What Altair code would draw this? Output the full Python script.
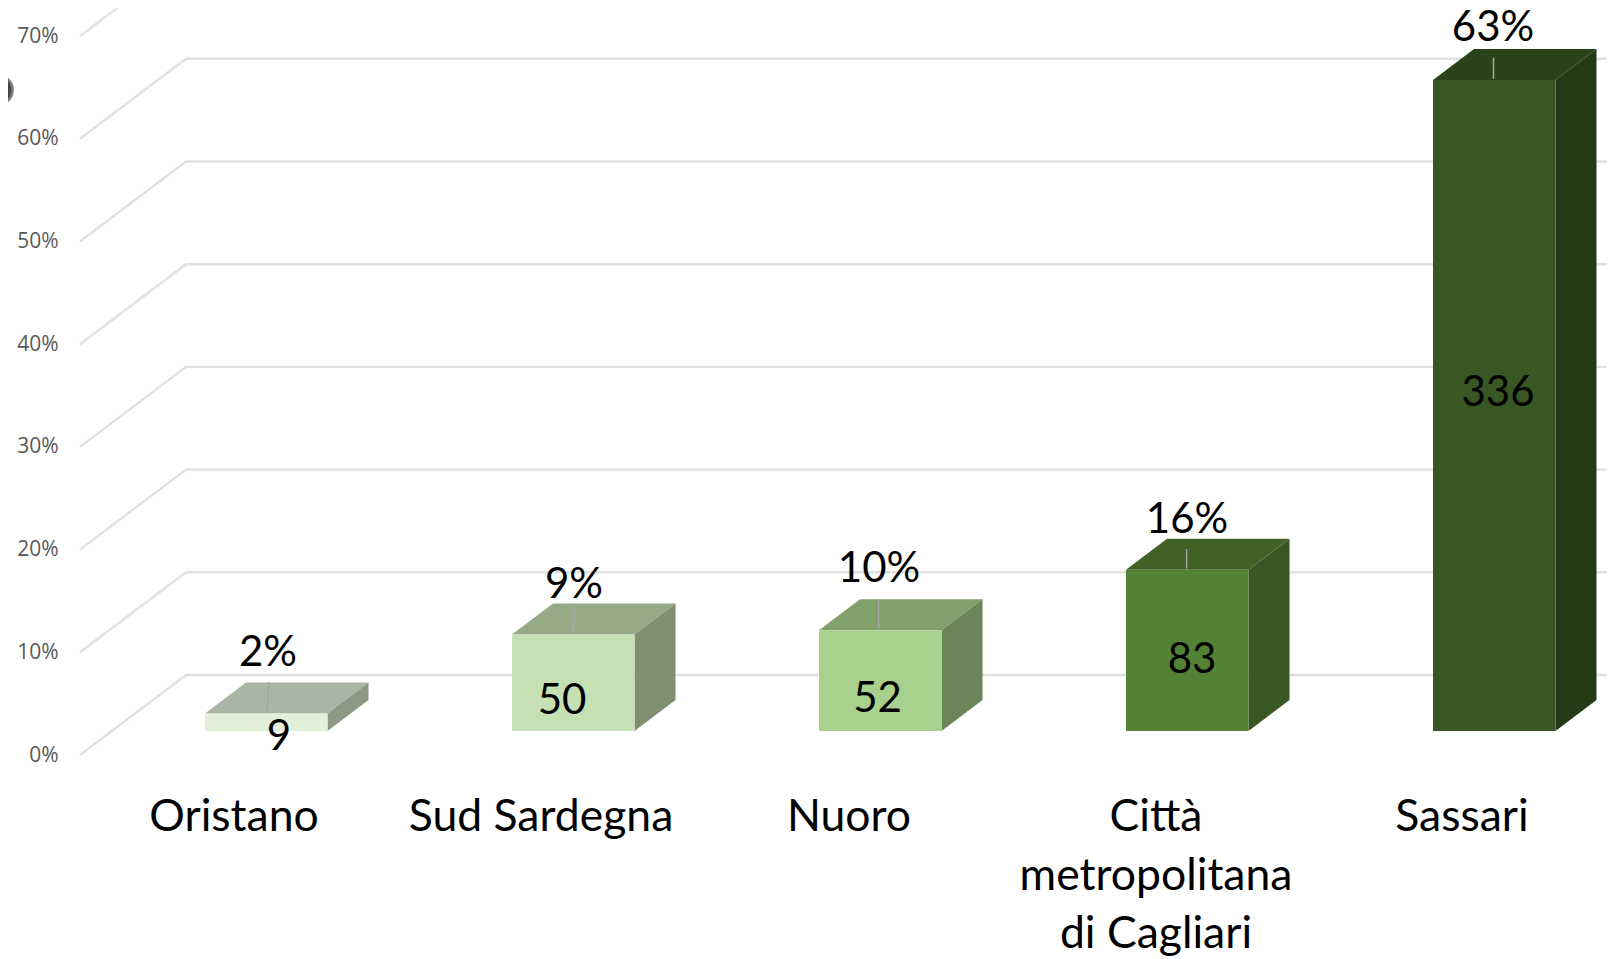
import altair as alt
import pandas as pd

# ---- values
CATEGORIES = ["Oristano", "Sud Sardegna", "Nuoro", "Città metropolitana di Cagliari", "Sassari"]
CATEGORY_LINES = [["Oristano"], ["Sud Sardegna"], ["Nuoro"], ["Città", "metropolitana", "di Cagliari"], ["Sassari"]]
COUNTS = [9, 50, 52, 83, 336]
PERCENT_LABELS = ["2%", "9%", "10%", "16%", "63%"]
BAR_PERCENT = [1.7, 9.4, 9.8, 15.7, 63.4]
AXIS_TICKS = [0, 10, 20, 30, 40, 50, 60, 70]

# ---- styles / layout
FRONT = ["#e2efd9", "#c5e0b3", "#a9d18e", "#548235", "#385723"]
TOP = ["#aab6a3", "#96aa88", "#82a06c", "#416127", "#2a431b"]
SIDE = ["#8b9985", "#7f8f72", "#6b8558", "#385723", "#253a17"]

W, H = 1599, 951
PX_PER_PCT = 10.27
ZERO_Y = 755


def v(page_y):
    return (ZERO_Y - page_y) / PX_PER_PCT


BASE = v(731)
WALL = 80 / PX_PER_PCT
DEPTH = 31 / PX_PER_PCT
BAR_X0 = 205
BAR_STEP = 307
BAR_W = 122.5
DX = 41

x_scale = alt.Scale(domain=[8, 8 + W], range=[0, W], nice=False, zero=False)
y_scale = alt.Scale(domain=[v(8 + H), v(8)], nice=False, zero=False)
X = alt.X("x:Q", scale=x_scale, axis=None)
Y_PLAIN = alt.Y("y:Q", scale=y_scale, title=None)

# grid lines: slanted floor edge + back wall
grid_rows = []
for t in AXIS_TICKS:
    grid_rows += [
        {"t": t, "o": 0, "x": 80, "y": t},
        {"t": t, "o": 1, "x": 186, "y": t + WALL},
        {"t": t, "o": 2, "x": 1620, "y": t + WALL},
    ]
grid = (
    alt.Chart(pd.DataFrame(grid_rows))
    .mark_line(color="#e0e0e0", strokeWidth=2.4)
    .encode(
        x=X,
        y=alt.Y(
            "y:Q",
            scale=y_scale,
            title=None,
            axis=alt.Axis(
                values=AXIS_TICKS,
                labelExpr="datum.value + '%'",
                orient="left",
                offset=-50,
                domain=False,
                ticks=False,
                grid=False,
                labelPadding=0,
                labelFont="Open Sans",
                labelFontSize=21,
                labelColor="#595959",
                labelBaseline="middle",
            ),
        ),
        detail="t:N",
        order="o:Q",
    )
)

# 3D box faces
top_rows, side_rows, front_rows, leader_rows = [], [], [], []
LEADERS = [(269, 682, 267, 713), (575, 606, 573, 632), (878.6, 599.5, 878.6, 628),
           (1186.6, 549, 1186.6, 568.6), (1493.5, 57.7, 1493.5, 79)]
for i, p in enumerate(BAR_PERCENT):
    x0 = BAR_X0 + BAR_STEP * i
    xr = x0 + BAR_W
    top = BASE + p
    front_rows.append({"x": x0, "x2": xr, "y": BASE, "y2": top, "c": FRONT[i]})
    for x, lo, hi in [
        (x0, top, top),
        (x0 + DX, top, top + DEPTH),
        (xr, top, top + DEPTH),
        (xr + DX, top + DEPTH, top + DEPTH),
    ]:
        top_rows.append({"b": i, "x": x, "y": lo, "y2": hi, "c": TOP[i]})
    for x, lo, hi in [(xr, BASE, top), (xr + DX, BASE + DEPTH, top + DEPTH)]:
        side_rows.append({"b": i, "x": x, "y": lo, "y2": hi, "c": SIDE[i]})
    a, b, c, d = LEADERS[i]
    leader_rows += [{"b": i, "o": 0, "x": a, "y": v(b)}, {"b": i, "o": 1, "x": c, "y": v(d)}]


def face(rows):
    return (
        alt.Chart(pd.DataFrame(rows))
        .mark_area(interpolate="linear")
        .encode(
            x=X, y=Y_PLAIN, y2="y2:Q",
            color=alt.Color("c:N", scale=None),
            detail="b:N",
        )
    )


tops = face(top_rows)
sides = face(side_rows)
fronts = (
    alt.Chart(pd.DataFrame(front_rows))
    .mark_rect()
    .encode(x=X, x2="x2:Q", y=Y_PLAIN, y2="y2:Q", color=alt.Color("c:N", scale=None))
)
leaders = (
    alt.Chart(pd.DataFrame(leader_rows))
    .mark_line(color="#a6a6a6", strokeWidth=1.5)
    .encode(x=X, y=Y_PLAIN, detail="b:N", order="o:Q")
)

# texts
PCT_POS = [(268, 652.5), (574, 584.5), (879, 569), (1187, 519.5), (1493, 27.5)]
CNT_POS = [(279, 736.5), (562, 700.5), (877.5, 698.5), (1192, 659.5), (1498, 392.5)]
CAT_X = [234, 541, 849, 1156, 1462]
CAT_Y0 = 818
CAT_LH = 58.5

text_rows = []
for i in range(5):
    text_rows.append({"x": PCT_POS[i][0], "y": v(PCT_POS[i][1]), "t": PERCENT_LABELS[i], "s": 42})
    text_rows.append({"x": CNT_POS[i][0], "y": v(CNT_POS[i][1]), "t": str(COUNTS[i]), "s": 42})
    for j, line in enumerate(CATEGORY_LINES[i]):
        text_rows.append({"x": CAT_X[i], "y": v(CAT_Y0 + j * CAT_LH), "t": line, "s": 44.5})

texts = (
    alt.Chart(pd.DataFrame(text_rows))
    .mark_text(font="Lato", color="#000000", align="center", baseline="middle")
    .encode(x=X, y=Y_PLAIN, text="t:N", size=alt.Size("s:Q", scale=None))
)

# dark smudge at the left edge of the source image
blob_rows = [{"x": -2, "y": v(90), "s": 1000}, {"x": -2, "y": v(90), "s": 700},
             {"x": -3, "y": v(90), "s": 450}, {"x": -3, "y": v(74), "s": 350},
             {"x": -3, "y": v(108), "s": 350}]
blob = (
    alt.Chart(pd.DataFrame(blob_rows))
    .mark_circle(color="#222222", opacity=0.6)
    .encode(x=X, y=Y_PLAIN, size=alt.Size("s:Q", scale=None))
)

chart = (
    alt.layer(grid, blob, tops, sides, fronts, leaders, texts)
    .properties(width=W, height=H, padding=0, autosize=alt.AutoSizeParams(type="none"), background="#ffffff")
    .configure_view(stroke=None)
)

chart.save("out.html", embed_options={"renderer": "svg", "actions": False})
